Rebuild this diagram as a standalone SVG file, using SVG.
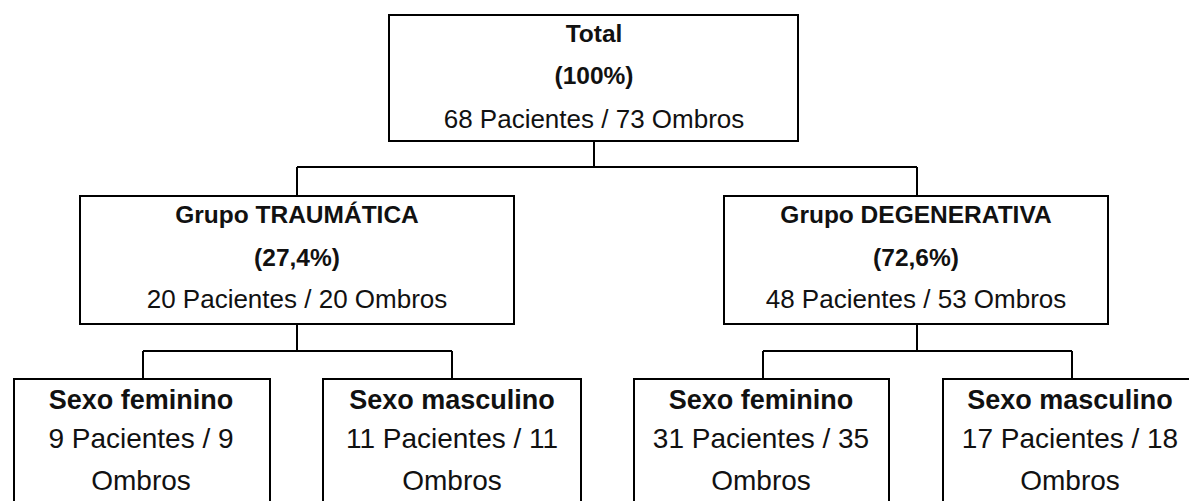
<svg xmlns="http://www.w3.org/2000/svg" width="1189" height="501" viewBox="0 0 1189 501">
<style>
.box{fill:#fff;stroke:#000;stroke-width:2}
.conn{fill:none;stroke:#000;stroke-width:2}
text{font-family:"Liberation Sans",Arial,sans-serif;fill:#111;text-anchor:middle}
.tb{font-weight:bold;font-size:24.5px}
.tr{font-size:26px}
.bb{font-weight:bold;font-size:27px}
.br{font-size:28px}
</style>
<rect width="1189" height="501" fill="#fff"/>
<g id="connectors">
<path class="conn" d="M594 141V167M297 167H917M297 167V196M917 167V196"/>
<path class="conn" d="M297 324V351M143 351H452M143 351V379M452 351V379"/>
<path class="conn" d="M917 324V351M763 351H1072M763 351V379M1072 351V379"/>
</g>
<g id="total">
<rect class="box" x="389" y="15" width="409" height="126"/>
<text class="tb" x="594" y="42">Total</text>
<text class="tb" x="594" y="84">(100%)</text>
<text class="tr" x="594" y="128">68 Pacientes / 73 Ombros</text>
</g>
<g id="traumatica">
<rect class="box" x="80" y="196" width="434" height="128"/>
<text class="tb" x="297" y="223">Grupo TRAUMÁTICA</text>
<text class="tb" x="297" y="266">(27,4%)</text>
<text class="tr" x="297" y="308">20 Pacientes / 20 Ombros</text>
</g>
<g id="degenerativa">
<rect class="box" x="724" y="196" width="384" height="128"/>
<text class="tb" x="916" y="223">Grupo DEGENERATIVA</text>
<text class="tb" x="916" y="266">(72,6%)</text>
<text class="tr" x="916" y="308">48 Pacientes / 53 Ombros</text>
</g>
<g id="trauma-fem">
<rect class="box" x="14" y="379" width="256" height="140"/>
<text class="bb" x="141" y="409">Sexo feminino</text>
<text class="br" x="141" y="448">9 Pacientes / 9</text>
<text class="br" x="141" y="490">Ombros</text>
</g>
<g id="trauma-masc">
<rect class="box" x="323" y="379" width="258" height="140"/>
<text class="bb" x="452" y="409">Sexo masculino</text>
<text class="br" x="452" y="448">11 Pacientes / 11</text>
<text class="br" x="452" y="490">Ombros</text>
</g>
<g id="degen-fem">
<rect class="box" x="634" y="379" width="255" height="140"/>
<text class="bb" x="761" y="409">Sexo feminino</text>
<text class="br" x="761" y="448">31 Pacientes / 35</text>
<text class="br" x="761" y="490">Ombros</text>
</g>
<g id="degen-masc">
<rect class="box" x="943" y="379" width="258" height="140"/>
<text class="bb" x="1070" y="409">Sexo masculino</text>
<text class="br" x="1070" y="448">17 Pacientes / 18</text>
<text class="br" x="1070" y="490">Ombros</text>
</g>
</svg>
